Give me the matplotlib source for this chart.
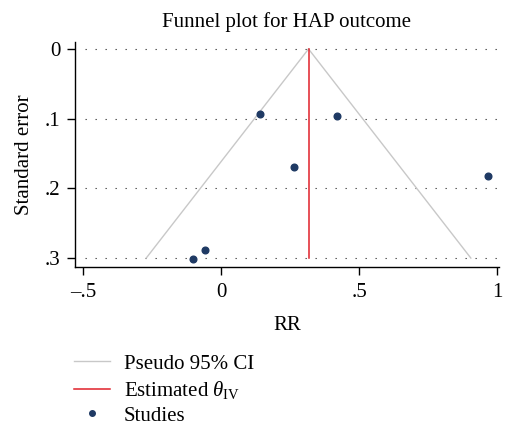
import matplotlib
matplotlib.use("Agg")
import matplotlib.pyplot as plt
import numpy as np
from matplotlib.lines import Line2D

plt.rcParams['font.family'] = ['Liberation Serif', 'DejaVu Serif']
plt.rcParams['mathtext.fontset'] = 'custom'
plt.rcParams['mathtext.rm'] = 'Liberation Serif'
plt.rcParams['mathtext.it'] = 'Liberation Serif:italic'

# Data
study_rr = [0.142, 0.419, 0.263, 0.966, -0.057, -0.101]
study_se = [0.094, 0.096, 0.170, 0.182, 0.288, 0.301]
theta_iv = 0.317
se_max = 0.30
x_ticks = [-0.5, 0, 0.5, 1]
x_ticklabels = ['\u2013.5', '0', '.5', '1']
y_ticks = [0, 0.1, 0.2, 0.3]
y_ticklabels = ['0', '.1', '.2', '.3']

fig = plt.figure(figsize=(5.05, 4.28), dpi=100)
ax = fig.add_axes([75/505, 1-267/428, (499-75)/505, (267-42)/428])

gray = '#c8c8c8'
red = '#e0202a'
navy = '#1f3a64'

se_line = np.array([0, se_max])
ax.plot(theta_iv - 1.96*se_line, se_line, color=gray, lw=1.0, zorder=2)
ax.plot(theta_iv + 1.96*se_line, se_line, color=gray, lw=1.0, zorder=2)
ax.plot([theta_iv, theta_iv], [0, se_max], color=red, lw=1.1, zorder=3)
ax.plot(study_rr, study_se, 'o', color=navy, ms=4.8, zorder=4, lw=0)

for yv in y_ticks:
    ax.axhline(yv, xmin=(85-75)/(499-75), xmax=(498-75)/(499-75),
               color='#444444', lw=0.8, linestyle=(0, (1.2, 7.8)), zorder=1)

ax.set_xlim(-0.529, 1.007)
ax.set_ylim(0.3128, -0.010)
ax.set_xticks(x_ticks)
ax.set_xticklabels(x_ticklabels)
ax.set_yticks(y_ticks)
ax.set_yticklabels(y_ticklabels)
ax.spines['top'].set_visible(False)
ax.spines['right'].set_visible(False)
for s in ['left', 'bottom']:
    ax.spines[s].set_linewidth(1.0)
ax.tick_params(axis='both', length=5.5, width=1.0, labelsize=15)
ax.tick_params(axis='x', pad=6)
ax.tick_params(axis='y', pad=5)

ax.set_title('Funnel plot for HAP outcome', fontsize=15, pad=11)
ax.set_ylabel('Standard error', fontsize=15, labelpad=8)
ax.set_xlabel('RR', fontsize=15, labelpad=10)

handles = [
    Line2D([], [], color=gray, lw=1.0),
    Line2D([], [], color=red, lw=1.1),
    Line2D([], [], color=navy, marker='o', ms=4.0, lw=0),
]
labels = ['Pseudo 95% CI', r'Estimated $\theta_{\mathrm{IV}}$', 'Studies']
fig.legend(handles, labels, loc='upper left', bbox_to_anchor=(74/505, 1-354/428),
           frameon=False, fontsize=15, handlelength=1.75, handletextpad=0.65,
           labelspacing=0.25, borderaxespad=0, borderpad=0)

fig.savefig('out.png', dpi=100)
